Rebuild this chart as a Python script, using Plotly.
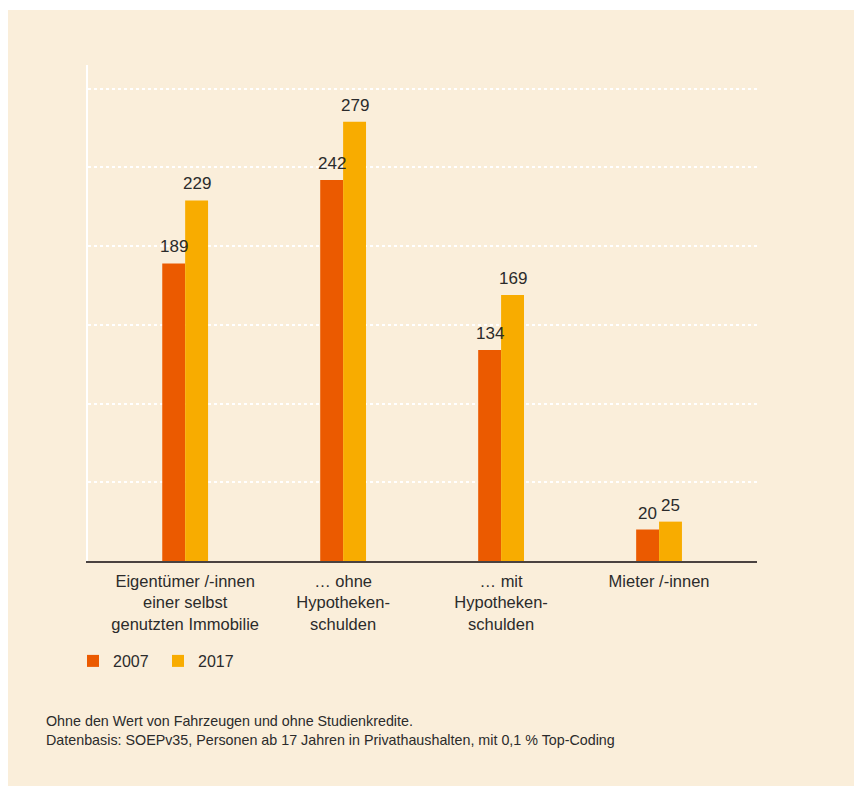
import plotly.graph_objects as go

categories = [
    "Eigentümer /-innen<br>einer selbst<br>genutzten Immobilie",
    "… ohne<br>Hypotheken-<br>schulden",
    "… mit<br>Hypotheken-<br>schulden",
    "Mieter /-innen",
]
values_2007 = [189, 242, 134, 20]
values_2017 = [229, 279, 169, 25]
series_names = ["2007", "2017"]
footnote = ("Ohne den Wert von Fahrzeugen und ohne Studienkredite.<br>"
            "Datenbasis: SOEPv35, Personen ab 17 Jahren in Privathaushalten, mit 0,1 % Top-Coding")

C07 = "#EB5A00"
C17 = "#F8AC00"
BG = "#FAEEDA"
TXT = "#2b2b2b"
FONT = "Liberation Sans, Arial, sans-serif"

# page offset of 8px (body margin) is accounted for
W, H = 854, 778
L, R, T, B = 80, 105, 57, 225
pw, ph = W - L - R, H - T - B

def px(x):
    return (x - L) / pw

def py(y):
    return (H - B - y) / ph

BARGAP = 0.71
bar_w = (1 - BARGAP) / 2
offsets = [-bar_w / 2, bar_w / 2]

fig = go.Figure()
for i, (name, vals, col) in enumerate([(series_names[0], values_2007, C07),
                                       (series_names[1], values_2017, C17)]):
    fig.add_trace(go.Bar(
        x=list(range(len(categories))), y=vals, name=name,
        marker=dict(color=col, line=dict(width=0)),
        hoverinfo="y",
    ))
    for j, v in enumerate(vals):
        fig.add_annotation(x=j + offsets[i], y=v, xref="x", yref="y",
                           text=str(v), showarrow=False, yanchor="bottom",
                           yshift=5, font=dict(size=17, color=TXT, family=FONT))

fig.add_shape(type="rect", xref="paper", yref="paper", layer="below",
              x0=px(-5), x1=px(W + 5), y0=py(H + 5), y1=py(2),
              fillcolor=BG, line=dict(width=0))

fig.add_annotation(xref="paper", yref="paper", x=px(36), y=py(703),
                   xanchor="left", yanchor="top", align="left", showarrow=False,
                   text=footnote, font=dict(size=14.3, color=TXT, family=FONT))

fig.update_layout(
    width=W, height=H,
    margin=dict(l=L, r=R, t=T, b=B),
    paper_bgcolor="white", plot_bgcolor="rgba(0,0,0,0)",
    barmode="group", bargap=BARGAP, bargroupgap=0,
    font=dict(family=FONT, color=TXT, size=16),
    showlegend=True,
    legend=dict(orientation="h", x=px(65), y=py(636), xanchor="left", yanchor="top",
                font=dict(size=16, color=TXT, family=FONT), bgcolor="rgba(0,0,0,0)",
                entrywidth=40, entrywidthmode="pixels", traceorder="normal"),
    xaxis=dict(
        tickmode="array", tickvals=list(range(len(categories))), ticktext=categories,
        range=[-0.615, 3.62], showline=True, linecolor="#4a4240", linewidth=2,
        showgrid=False, zeroline=False, ticks="", ticklabelstandoff=4,
        tickfont=dict(size=16.5, color=TXT, family=FONT),
        fixedrange=True,
    ),
    yaxis=dict(
        range=[0, 315], dtick=50, showticklabels=False, showgrid=True,
        gridcolor="white", griddash="dot", gridwidth=1.5,
        showline=True, linecolor="white", linewidth=1.5, zeroline=False, ticks="",
    ),
)

fig.write_html("out.html")
